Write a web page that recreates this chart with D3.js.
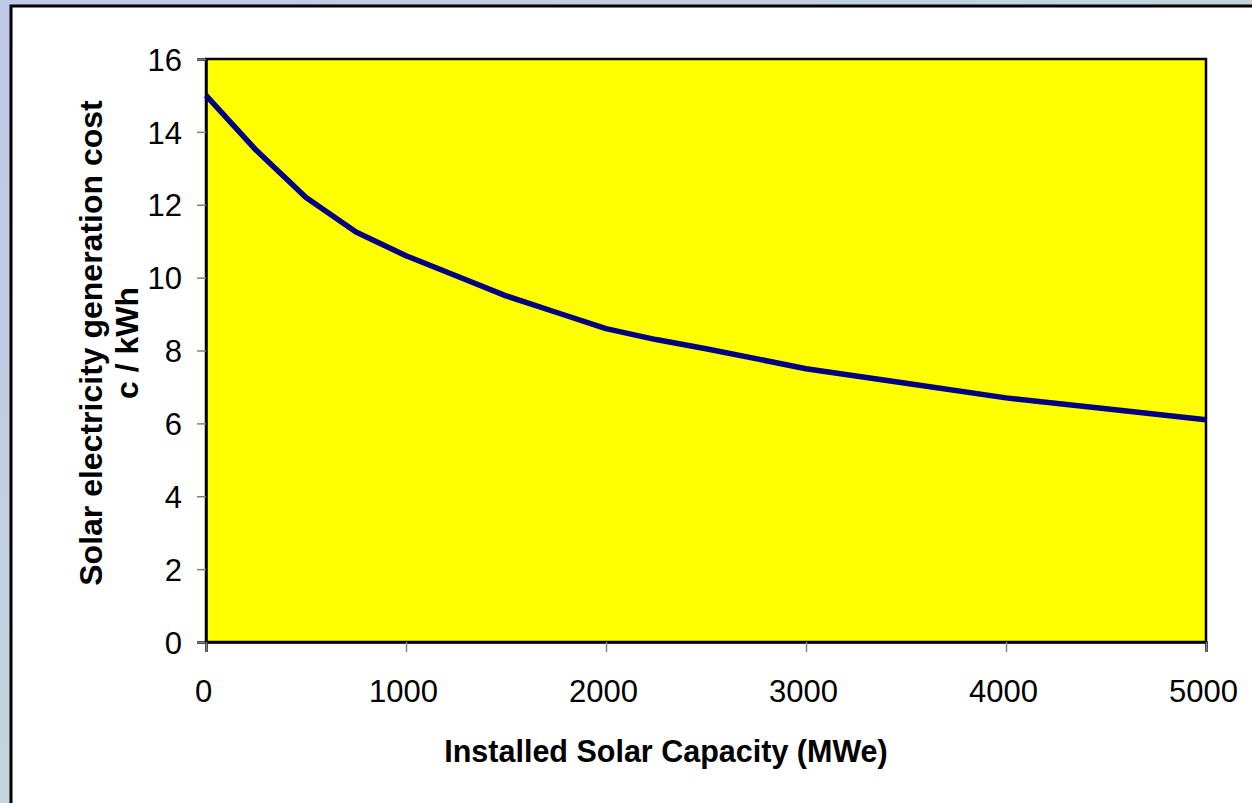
<!DOCTYPE html>
<html>
<head>
<meta charset="utf-8">
<script src="https://cdn.jsdelivr.net/npm/d3@7"></script>
<style>
  html, body { margin: 0; padding: 0; }
  body { width: 1252px; height: 803px; overflow: hidden; }
  svg { display: block; }
</style>
</head>
<body>
<svg id="chart" width="1252" height="803"></svg>
<script>
// Installed capacity (MWe) and the matching generation cost (c/kWh)
const capacity = [0, 250, 500, 750, 1000, 1250, 1500, 1750, 2000, 2250, 2500, 3000, 3500, 4000, 4500, 5000];
const cost     = [15.0, 13.5, 12.2, 11.25, 10.6, 10.05, 9.5, 9.05, 8.6, 8.3, 8.05, 7.5, 7.1, 6.7, 6.4, 6.1];

const xTicks = [0, 1000, 2000, 3000, 4000, 5000];
const yTicks = [0, 2, 4, 6, 8, 10, 12, 14, 16];

const xTitle = "Installed Solar Capacity (MWe)";
const yTitleLines = ["Solar electricity generation cost", "c / kWh"];

const W = 1252, H = 803;
const plot = { left: 206, top: 59, right: 1206, bottom: 642 };
const font = "Liberation Sans, Arial, Helvetica, sans-serif";

const svg = d3.select("#chart");

// Backdrop gradient and white card
const defs = svg.append("defs");
const grad = defs.append("linearGradient")
  .attr("id", "bg").attr("x1", "0").attr("y1", "0").attr("x2", "1").attr("y2", "1");
grad.append("stop").attr("offset", "0%").attr("stop-color", "#c0c8e8");
grad.append("stop").attr("offset", "50%").attr("stop-color", "#c3d4dc");
grad.append("stop").attr("offset", "100%").attr("stop-color", "#c6e0d6");

svg.append("rect").attr("width", W).attr("height", H).attr("fill", "url(#bg)");
svg.append("rect")
  .attr("x", 11).attr("y", 6).attr("width", W + 20).attr("height", H + 20)
  .attr("fill", "#ffffff").attr("stroke", "#000000").attr("stroke-width", 3);

// Scales
const x = d3.scaleLinear().domain([0, 5000]).range([plot.left, plot.right]);
const y = d3.scaleLinear().domain([0, 16]).range([plot.bottom, plot.top]);

// Plot area
svg.append("rect")
  .attr("x", plot.left).attr("y", plot.top)
  .attr("width", plot.right - plot.left).attr("height", plot.bottom - plot.top)
  .attr("fill", "#ffff00").attr("stroke", "#000000").attr("stroke-width", 2.5);

// Axes
const yAxis = d3.axisLeft(y).tickValues(yTicks).tickSize(9).tickPadding(15).tickFormat(d3.format("d"));
const xAxis = d3.axisBottom(x).tickValues(xTicks).tickSize(10).tickPadding(28).tickFormat(d3.format("d"));

const gy = svg.append("g").attr("transform", `translate(${plot.left},0)`).call(yAxis);
const gx = svg.append("g").attr("transform", `translate(0,${plot.bottom})`).call(xAxis);

[gx, gy].forEach(g => {
  g.attr("font-size", null).attr("font-family", null);
  g.select(".domain").attr("stroke", "#000000").attr("stroke-width", 2.5);
  g.selectAll(".tick line").attr("stroke", "#808080").attr("stroke-width", 1.5);
  g.selectAll(".tick text")
    .attr("fill", "#000000")
    .style("font-family", font)
    .style("font-size", "31px");
});
gy.selectAll(".tick text").attr("dy", "0.36em");
gx.selectAll(".tick text").attr("dy", "0.72em").attr("dx", "-3");

// Cost curve
const line = d3.line()
  .x((d, i) => x(capacity[i]))
  .y(d => y(d));

svg.append("path")
  .datum(cost)
  .attr("d", line)
  .attr("fill", "none")
  .attr("stroke", "#000080")
  .attr("stroke-width", 5.5)
  .attr("stroke-linejoin", "round");

// Axis titles
svg.append("text")
  .attr("x", 666)
  .attr("y", 762)
  .attr("text-anchor", "middle")
  .style("font-family", font)
  .style("font-size", "30.5px")
  .style("font-weight", "bold")
  .text(xTitle);

const yt = svg.append("text")
  .attr("transform", `translate(102, 343) rotate(-90)`)
  .attr("text-anchor", "middle")
  .style("font-family", font)
  .style("font-size", "32px")
  .style("font-weight", "bold");
yTitleLines.forEach((t, i) => {
  yt.append("tspan").attr("x", 0).attr("dy", i === 0 ? 0 : 36).text(t);
});
</script>
</body>
</html>
